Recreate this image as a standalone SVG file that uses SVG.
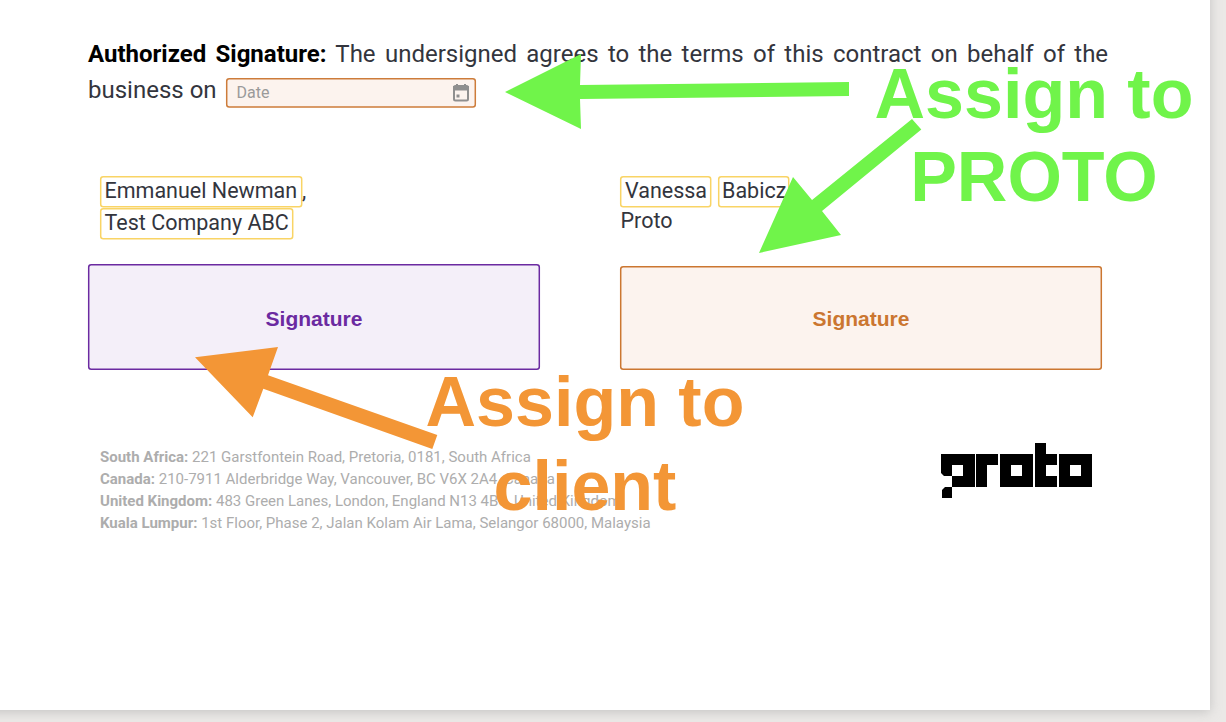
<svg xmlns="http://www.w3.org/2000/svg" width="1226" height="722" viewBox="0 0 1226 722">
<style>
text{font-family:Roboto,"Liberation Sans",sans-serif}
.body{font-size:24px;fill:#33353d}
.name{font-size:21.5px;fill:#33353d}
.tag{fill:#fff;stroke:#f9d465;stroke-width:1.5}
.foot{font-size:15px;fill:#adadad}
.foot tspan{font-weight:700}
.big{font-family:"Liberation Sans",Arial,sans-serif;font-weight:700;font-size:70px;text-anchor:middle}
.sig{font-family:"Liberation Sans",Arial,sans-serif;font-size:21px;font-weight:700;text-anchor:middle}
.green{fill:#70f44a}.orange{fill:#f39636}
</style>
<defs>
<filter id="sh" x="-5%" y="-5%" width="110%" height="110%"><feGaussianBlur stdDeviation="6"/></filter>
</defs>
<rect width="1226" height="722" fill="#ebe9e7"/>
<rect x="-20" y="-20" width="1230" height="732" fill="#aaa" opacity=".6" filter="url(#sh)"/>
<rect id="page" x="-20" y="-20" width="1230" height="730" fill="#fff"/>

<g id="agreement">
<text class="body" x="88" y="62" word-spacing="3.35"><tspan font-weight="700" fill="#000">Authorized Signature:</tspan> The undersigned agrees to the terms of this contract on behalf of the</text>
<text class="body" x="88" y="98">business on</text>
</g>
<g id="date-field">
<rect x="226.700" y="78.700" width="248.600" height="28.200" rx="2.500" fill="#fcf3ee" stroke="#cd7c3a" stroke-width="1.500"/>
<text x="236.500" y="98" font-size="16" fill="#9a9a9a">Date</text>
<g fill="none" stroke="#8f8f8f" stroke-width="2"><rect x="454" y="86" width="14" height="14.500" rx="1.500"/></g>
<g fill="#8f8f8f"><rect x="453" y="86" width="16" height="4.500"/><rect x="456" y="84" width="2" height="3"/><rect x="464" y="84" width="2" height="3"/><rect x="456.500" y="94.500" width="3" height="3"/></g>
</g>
<g id="client-name">
<rect class="tag" x="100.700" y="176.700" width="201" height="30" rx="2.500"/>
<rect class="tag" x="100.700" y="208.700" width="192" height="30" rx="2.500"/>
<text class="name" x="104.500" y="198">Emmanuel Newman</text>
<text class="name" x="302" y="198">,</text>
<text class="name" x="104.500" y="230">Test Company ABC</text>
</g>
<g id="proto-name">
<rect class="tag" x="620.700" y="176.700" width="90" height="30" rx="2.500"/>
<rect class="tag" x="718.700" y="176.700" width="70" height="30" rx="2.500"/>
<text class="name" x="625" y="198">Vanessa</text>
<text class="name" x="722" y="198">Babicz</text>
<text class="name" x="620.500" y="228">Proto</text>
</g>
<g id="client-signature">
<rect x="88.700" y="264.700" width="450.600" height="104.600" rx="2.500" fill="#f4eff9" stroke="#6b2aa1" stroke-width="1.500"/>
<text class="sig" x="314" y="326" fill="#6b2aa1">Signature</text>
</g>
<g id="proto-signature">
<rect x="620.700" y="266.700" width="480.600" height="102.600" rx="2.500" fill="#fcf3ee" stroke="#cb7630" stroke-width="1.500"/>
<text class="sig" x="861" y="326" fill="#cb7630">Signature</text>
</g>
<g id="footer">
<text class="foot" x="100" y="462"><tspan>South Africa:</tspan> 221 Garstfontein Road, Pretoria, 0181, South Africa</text>
<text class="foot" x="100" y="484"><tspan>Canada:</tspan> 210-7911 Alderbridge Way, Vancouver, BC V6X 2A4, Canada</text>
<text class="foot" x="100" y="506"><tspan>United Kingdom:</tspan> 483 Green Lanes, London, England N13 4BS, United Kingdom</text>
<text class="foot" x="100" y="528"><tspan>Kuala Lumpur:</tspan> 1st Floor, Phase 2, Jalan Kolam Air Lama, Selangor 68000, Malaysia</text>
</g>
<g id="logo" fill="#000" fill-rule="evenodd">
<path d="M941 454H975V487H952V476H944L941 473ZM952 465V476H963V465Z"/>
<path d="M945 487H952V498H942V490Z"/>
<path d="M976 454H998V465H987V487H976Z"/>
<path d="M1000 454H1033V487H1000ZM1011 465V476H1022V465Z"/>
<path d="M1035 443H1046V454H1057V465H1046V476H1057V487H1035Z"/>
<path d="M1059 454H1092V487H1059ZM1070 465V476H1081V465Z"/>
</g>
<g id="connectors">
<polygon class="green" points="849,82 849,96 580,99 581,129 505,92 581,54 580,85"/>
<polygon class="green" points="912,119 921.300,129.500 822,211 841,235 759,253 793,177 812,200"/>
<polygon class="orange" points="437.300,435 432.300,449 263.300,388.700 252.700,417.300 195,357.300 278,347 268,375.300"/>
</g>
<g id="labels">
<text class="big green" x="1034" y="117.500">Assign to</text>
<text class="big green" x="1034" y="201">PROTO</text>
<text class="big orange" x="585" y="426">Assign to</text>
<text class="big orange" x="585" y="510">client</text>
</g>
</svg>
